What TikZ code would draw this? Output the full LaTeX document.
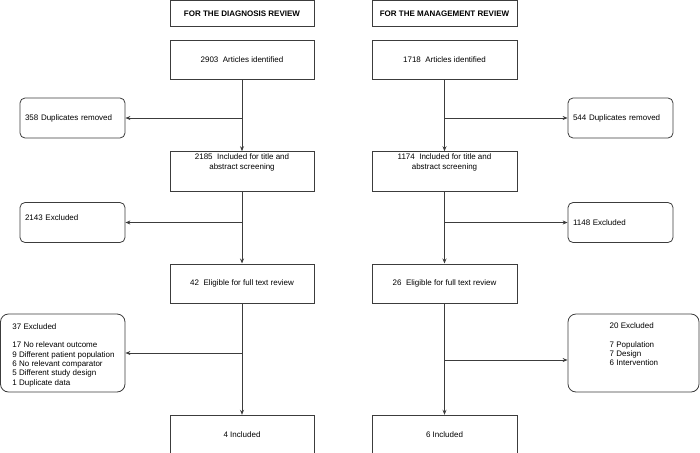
\documentclass[tikz,border=0pt]{standalone}
\usepackage{fontspec}
\setmainfont{Liberation Sans}
\usetikzlibrary{arrows.meta,positioning}
\definecolor{lineg}{RGB}{60,60,60}

\begin{document}
\begin{tikzpicture}[x=1pt,y=-1pt, line width=0.8pt,
  every node/.style={font=\fontsize{8}{9.3}\selectfont, inner sep=0pt},
  box/.style={draw=lineg, minimum width=144pt, minimum height=39.5pt},
  titlebox/.style={box, minimum height=26pt, font=\fontsize{8}{9.3}\selectfont\bfseries},
  sidebox/.style={draw=lineg, rounded corners=5pt, minimum width=105pt, minimum height=40pt, text width=95pt, inner xsep=5pt, align=left},
  bigbox/.style={draw=lineg, rounded corners=8pt, minimum height=78pt},
  arr/.style={draw=lineg, -{Stealth[length=5pt,width=4pt]}}]
  \useasboundingbox (0,0) rectangle (700,452);

  % diagnosis column
  \node[titlebox] (diag) at (242,13.5) {FOR THE DIAGNOSIS REVIEW};
  \node[box,below=13pt of diag] (art1) {2903~ Articles identified};
  \node[box,below=71pt of art1] (inc1) {};
  \node[anchor=north,align=center] (inc1txt) at ([yshift=-2.5pt]inc1.north) {2185~ Included for title and\\abstract screening};
  \node[box,below=72pt of inc1] (eli1) {42~ Eligible for full text review};
  \node[box,below=111pt of eli1] (fin1) {4 Included};

  \node[sidebox] (dup1) at (72.5,118) {358 Duplicates removed};
  \node[sidebox,text depth=10pt] (exc1) at (72.5,222.5) {2143 Excluded};
  \node[bigbox,minimum width=124.5pt] (rsn1) at (62.75,353) {};
  \node[anchor=north west,align=left] (rsn1txt) at (12,323) {37 Excluded\\[9.3pt]17 No relevant outcome\\9 Different patient population\\6 No relevant comparator\\5 Different study design\\1 Duplicate data};

  % management column
  \node[titlebox,minimum width=145pt] (mgmt) at (444.5,13.5) {FOR THE MANAGEMENT REVIEW};
  \node[box,minimum width=145pt,below=13pt of mgmt] (art2) {1718~ Articles identified};
  \node[box,minimum width=145pt,below=71pt of art2] (inc2) {};
  \node[anchor=north,align=center] (inc2txt) at ([yshift=-2.5pt]inc2.north) {1174~ Included for title and\\abstract screening};
  \node[box,minimum width=145pt,below=72pt of inc2] (eli2) {26~ Eligible for full text review};
  \node[box,minimum width=145pt,below=111pt of eli2] (fin2) {6 Included};

  \node[sidebox] (dup2) at (620.5,118) {544 Duplicates removed};
  \node[sidebox] (exc2) at (620.5,222.5) {1148 Excluded};
  \node[bigbox,minimum width=131pt] (rsn2) at (633.5,353) {};
  \node[anchor=north west,align=left] (rsn2txt) at (609.3,322.5) {20 Excluded\\[9.3pt]7 Population\\7 Design\\6 Intervention};
  \coordinate (rsn2in) at ([yshift=-7pt]rsn2.west);

  % connectors
  \foreach \a/\b in {art1/inc1,inc1/eli1,eli1/fin1,art2/inc2,inc2/eli2,eli2/fin2}{
    \draw[arr] (\a) -- (\b);
  }
  \foreach \a/\b in {art1/dup1,inc1/exc1,eli1/rsn1}{
    \draw[arr] (\a.south |- \b.east) -- (\b.east);
  }
  \foreach \a/\b in {art2/dup2,inc2/exc2}{
    \draw[arr] (\a.south |- \b.west) -- (\b.west);
  }
  \draw[arr] (eli2.south |- rsn2in) -- (rsn2in);
\end{tikzpicture}
\end{document}
